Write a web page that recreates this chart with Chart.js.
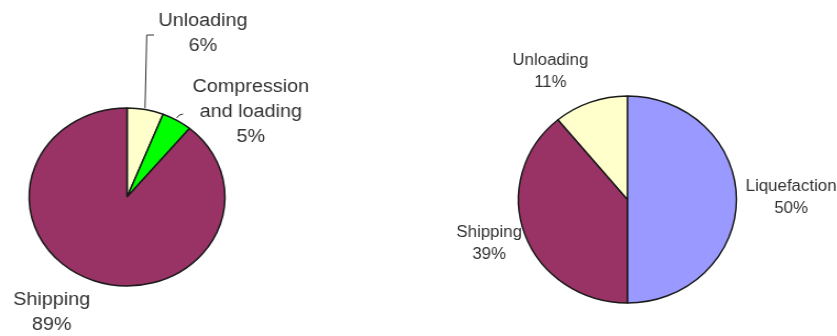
<!DOCTYPE html>
<html>
<head>
<meta charset="utf-8">
<script src="https://cdn.jsdelivr.net/npm/chart.js@4.4.1/dist/chart.umd.min.js"></script>
<style>
  html, body { margin: 0; padding: 0; background: #fff; }
  body { width: 837px; height: 336px; position: relative; overflow: hidden; }
  canvas { position: absolute; top: 0; transform-origin: 0 0; }
  #left-pie { left: 0; transform: scaleX(1.1); }
  #right-pie { left: 420px; transform: scaleX(1.053); }
</style>
</head>
<body>
<canvas id="left-pie" width="300" height="336"></canvas>
<canvas id="right-pie" width="397" height="336"></canvas>
<script>
// left pie: CO2 transport chain (pipeline-free)
const leftCategories = [['Unloading'], ['Compression', 'and loading'], ['Shipping']];
const leftValues = [6, 5, 89];
const leftColors = ['#FFFFCC', '#00FF00', '#993366'];

// right pie: LNG style chain
const rightCategories = [['Liquefaction'], ['Shipping'], ['Unloading']];
const rightValues = [50, 39, 11];
const rightColors = ['#9999FF', '#993366', '#FFFFCC'];

// where each label sits (canvas px, before the horizontal stretch)
const leftLabelPos = [[184.5, 21], [228, 87], [47, 300]];
const rightLabelPos = [[352.4, 187], [65.7, 233], [123.8, 61]];

/**
 * Draw the category + percent text, and any leader lines
 */
function labelPlugin(pos, fontSize, lineGap, leaders) {
  return {
    id: 'pieLabels',
    afterDraw(chart) {
      const ctx = chart.ctx;
      const data = chart.data;
      ctx.save();
      ctx.strokeStyle = '#333';
      ctx.lineWidth = 1;
      leaders.forEach(pts => {
        ctx.beginPath();
        pts.forEach((p, i) => i ? ctx.lineTo(p[0], p[1]) : ctx.moveTo(p[0], p[1]));
        ctx.stroke();
      });
      ctx.fillStyle = '#333';
      ctx.font = fontSize + 'px "Liberation Sans", Arial, sans-serif';
      ctx.textAlign = 'center';
      ctx.textBaseline = 'middle';
      data.labels.forEach((lbl, i) => {
        const lines = [...lbl, data.datasets[0].data[i] + '%'];
        lines.forEach((t, j) => ctx.fillText(t, pos[i][0], pos[i][1] + j * lineGap));
      });
      ctx.restore();
    }
  };
}

function pie(selector, labels, values, colors, radius, padding, plugin) {
  const ctx = document.querySelector(selector).getContext('2d');
  return new Chart(ctx, {
    type: 'pie',
    data: {
      labels: labels,
      datasets: [{
        data: values,
        backgroundColor: colors,
        borderColor: '#1a1a1a',
        borderWidth: 1.5
      }]
    },
    options: {
      responsive: false,
      animation: false,
      devicePixelRatio: 1,
      radius: radius,
      layout: { padding: padding },
      plugins: { legend: { display: false }, tooltip: { enabled: false } }
    },
    plugins: [plugin]
  });
}

pie('#left-pie', leftCategories, leftValues, leftColors, 89,
  { left: 25.5, right: 94.5, top: 107, bottom: 49 },
  labelPlugin(leftLabelPos, 18, 25, [
    [[140, 35], [133.4, 35], [131.8, 108]],
    [[160.6, 118], [163, 115], [166.4, 114]]
  ]));

pie('#right-pie', rightCategories, rightValues, rightColors, 103.5,
  { left: 92, right: 95, top: 94.5, bottom: 31.5 },
  labelPlugin(rightLabelPos, 16, 22, []));
</script>
</body>
</html>
